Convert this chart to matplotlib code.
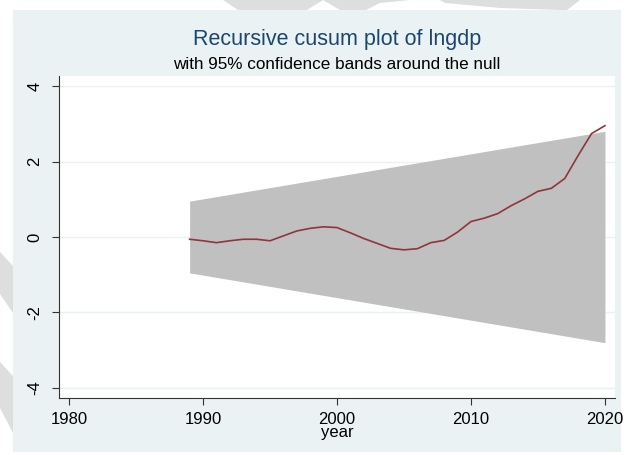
import matplotlib.pyplot as plt
from matplotlib.patches import Rectangle, Polygon

plt.rcParams["font.family"] = ["Liberation Sans", "DejaVu Sans"]

W, H = 631, 455

# recursive cusum of lngdp
years = list(range(1989, 2021))
cusum = [-0.06, -0.10, -0.15, -0.10, -0.06, -0.06, -0.10, 0.03,
         0.16, 0.23, 0.27, 0.25, 0.11, -0.04, -0.17, -0.30,
         -0.34, -0.31, -0.15, -0.09, 0.13, 0.41, 0.50, 0.62,
         0.83, 1.01, 1.21, 1.29, 1.55, 2.16, 2.74, 2.95]

# 95% confidence band end points
band_years = [1989, 2020]
band_upper = [0.95, 2.80]
band_lower = [-0.95, -2.80]

x_ticks = [1980, 1990, 2000, 2010, 2020]
y_ticks = [-4, -2, 0, 2, 4]

BG = "#EAF2F3"
BAND = "#C0C0C0"
LINE = "#90353B"
TITLE = "#1A476F"


def fx(x):
    return x / W


def fy(y):
    return 1 - y / H


fig = plt.figure(figsize=(W / 100, H / 100), dpi=100, facecolor="white")

# light grey shapes behind the graph region
shapes = [
    [(223, 0), (238, 10), (307, 10), (323, 0)],
    [(323, 0), (340, 10), (366, 10), (380, 3), (410, 0)],
    [(440, 0), (445, 3), (500, 8), (560, 10), (567, 10), (580, 0)],
    [(0, 252), (13, 266), (13, 313), (0, 294)],
    [(0, 362), (13, 376), (13, 433), (0, 408)],
]
for pts in shapes:
    fig.patches.append(Polygon([(fx(a), fy(b)) for a, b in pts], closed=True,
                               transform=fig.transFigure, facecolor="#DEDEDE",
                               edgecolor="none", zorder=0))

fig.patches.append(Rectangle((fx(13), fy(452)), fx(621) - fx(13), fy(10) - fy(452),
                             transform=fig.transFigure, facecolor=BG,
                             edgecolor="none", zorder=1))

ax = fig.add_axes([fx(59), fy(398), fx(615) - fx(59), fy(76) - fy(398)])
ax.set_facecolor("white")
ax.set_zorder(2)

ax.fill_between(band_years, band_lower, band_upper, color=BAND, lw=0, zorder=2)
ax.plot(years, cusum, color=LINE, lw=1.2, zorder=3)

ax.set_xlim(1979.25, 2020.75)
ax.set_ylim(-4.265, 4.265)
ax.set_xticks(x_ticks)
ax.set_yticks(y_ticks)
ax.set_yticklabels([str(v) for v in y_ticks], rotation=90, va="center")
ax.grid(axis="y", color=BG, lw=1.0, zorder=1)
ax.set_axisbelow(True)

for side in ["top", "right"]:
    ax.spines[side].set_visible(False)
for side in ["left", "bottom"]:
    ax.spines[side].set_color("#333333")
    ax.spines[side].set_linewidth(0.8)

ax.tick_params(direction="out", length=5, width=0.8, color="#333333",
               labelsize=12, labelcolor="black")
ax.tick_params(axis="x", pad=5)
ax.tick_params(axis="y", pad=7)

ax.set_xlabel("year", fontsize=12, labelpad=-1)

fig.text(fx(337), fy(40), "Recursive cusum plot of lngdp", ha="center",
         va="center", fontsize=15.5, color=TITLE)
fig.text(fx(337), fy(65), "with 95% confidence bands around the null",
         ha="center", va="center", fontsize=12.3, color="black")

fig.savefig("out.png", dpi=100, facecolor="white")
